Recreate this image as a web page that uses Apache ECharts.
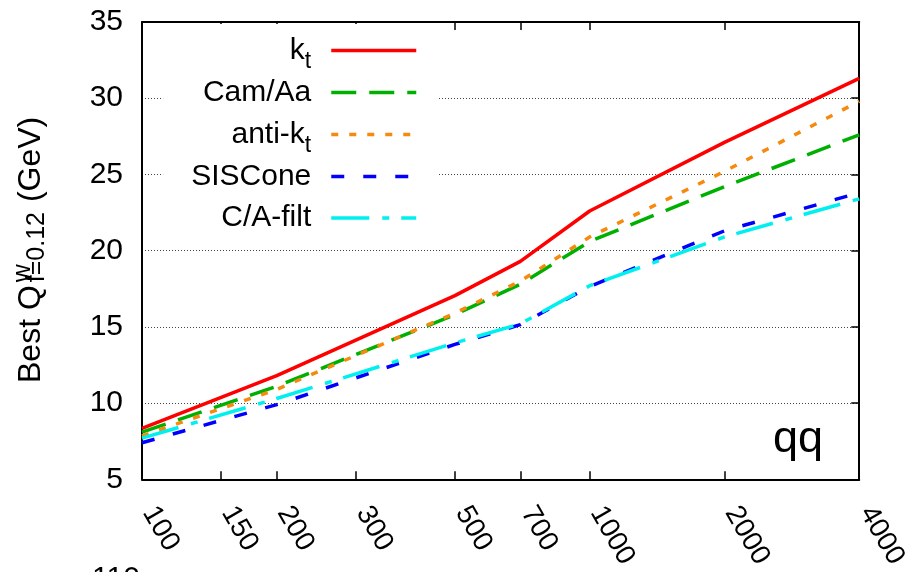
<!DOCTYPE html>
<html>
<head>
<meta charset="utf-8">
<script src="https://cdn.jsdelivr.net/npm/echarts@6/dist/echarts.min.js"></script>
<style>
  html, body { margin: 0; padding: 0; background: #fff; }
  #main { width: 911px; height: 572px; }
</style>
</head>
<body>
<div id="main"></div>
<script>
// masses (GeV) where the curves are sampled
var mass = [100, 200, 500, 700, 1000, 2000, 4000];
var kt      = [8.35, 11.8, 17.05, 19.3, 22.6, 27.1, 31.3];
var camAa   = [8.1, 11.1, 15.8, 17.8, 20.6, 24.2, 27.6];
var antiKt  = [7.85, 10.9, 15.9, 18.0, 20.9, 25.2, 29.8];
var sisCone = [7.4, 9.9, 13.85, 15.15, 17.65, 21.3, 23.8];
var caFilt  = [7.7, 10.3, 13.95, 15.2, 17.7, 20.9, 23.4];

var xLabels = [100, 150, 200, 300, 500, 700, 1000, 2000, 4000];
var xTicks  = [150, 200, 300, 500, 700, 1000, 2000];

var FONT = '"Liberation Sans", Arial, sans-serif';
var dom = document.getElementById('main');
var myChart = echarts.init(dom);

function pts(ys) {
    return mass.map(function (m, i) { return [Math.log10(m), ys[i]]; });
}
function lg(a) { return a.map(function (v) { return Math.log10(v); }); }

// measure text for the y axis title
var ctx = document.createElement('canvas').getContext('2d');
function tw(t, s) { ctx.font = s + 'px ' + FONT; return ctx.measureText(t).width; }
var wMain = tw('Best Q', 32);
var wSub = tw('f=0.12', 25);

var xBase = {
    type: 'value',
    min: 2,
    max: Math.log10(4000),
    gridIndex: 0,
    splitLine: { show: false },
    axisLine: { show: true, onZero: false, lineStyle: { color: '#000', width: 2 } },
    axisTick: { show: true, inside: true, length: 8, customValues: lg(xTicks), lineStyle: { color: '#000', width: 1.5 } }
};

option = {
    animation: false,
    backgroundColor: '#fff',
    grid: { left: 142, right: 49, top: 22, bottom: 92 },
    legend: {
        orient: 'vertical',
        right: 474,
        top: 24,
        padding: [4, 19, 6, 28],
        align: 'right',
        backgroundColor: '#fff',
        itemWidth: 85,
        itemHeight: 14,
        itemGap: -2.5,
        itemStyle: { opacity: 0 },
        lineStyle: { width: 3.5 },
        textStyle: {
            fontFamily: FONT, fontSize: 30, color: '#000', lineHeight: 44,
            padding: [0, 15, 0, 0],
            rich: {
                s: { fontFamily: FONT, fontSize: 23, lineHeight: 22, padding: [22, 0, 0, 0], color: '#000' }
            }
        },
        formatter: function (name) {
            if (name === 'k_t') return 'k{s|t}';
            if (name === 'anti-k_t') return 'anti-k{s|t}';
            return name;
        },
        data: ['k_t', 'Cam/Aa', 'anti-k_t', 'SISCone', 'C/A-filt']
    },
    xAxis: [
        Object.assign({}, xBase, {
            position: 'bottom',
            axisLabel: {
                show: true,
                customValues: lg(xLabels),
                rotate: -60,
                margin: 17,
                padding: [0, 0, 0, 14],
                fontFamily: FONT,
                fontSize: 28,
                color: '#000',
                formatter: function (v) { return String(Math.round(Math.pow(10, v))); }
            }
        }),
        Object.assign({}, xBase, {
            position: 'top',
            axisLabel: { show: false }
        })
    ],
    yAxis: [
        {
            type: 'value',
            min: 5, max: 35, interval: 5,
            position: 'left',
            axisLine: { show: true, onZero: false, lineStyle: { color: '#000', width: 2 } },
            axisTick: { show: false },
            axisLabel: { margin: 19, fontFamily: FONT, fontSize: 30, color: '#000' },
            splitLine: { show: true, lineStyle: { color: '#444', width: 1, type: [1, 2] } }
        },
        {
            type: 'value',
            min: 5, max: 35, interval: 5,
            position: 'right',
            axisLine: { show: true, onZero: false, lineStyle: { color: '#000', width: 2 } },
            axisTick: { show: true, inside: true, length: 8, lineStyle: { color: '#000', width: 1.5 } },
            axisLabel: { show: false },
            splitLine: { show: false }
        }
    ],
    graphic: [
        {
            type: 'group',
            x: 42, y: 383,
            rotation: Math.PI / 2,
            children: [
                { type: 'text', x: 0, y: -11, style: { text: 'Best Q', font: '32px ' + FONT, fill: '#000', verticalAlign: 'middle' } },
                { type: 'text', x: wMain + 3, y: -19, style: { text: 'w', font: '25px ' + FONT, fill: '#000', verticalAlign: 'middle' } },
                { type: 'text', x: wMain + 3, y: -5, style: { text: 'f=0.12', font: '25px ' + FONT, fill: '#000', verticalAlign: 'middle' } },
                { type: 'text', x: wMain + wSub + 4, y: -11, style: { text: ' (GeV)', font: '32px ' + FONT, fill: '#000', verticalAlign: 'middle' } }
            ]
        },
        { type: 'text', left: 773, top: 417, style: { text: 'qq', font: '45px ' + FONT, fill: '#000' } },
        { type: 'text', left: 92, top: 564, style: { text: '110', font: '30px ' + FONT, fill: '#000' } }
    ],
    series: [
        { name: 'k_t', type: 'line', data: pts(kt), symbol: 'none', lineStyle: { color: '#ff0000', width: 3.5, type: 'solid' }, itemStyle: { color: '#ff0000' } },
        { name: 'Cam/Aa', type: 'line', data: pts(camAa), symbol: 'none', lineStyle: { color: '#00b000', width: 3.5, type: [25, 13] }, itemStyle: { color: '#00b000' } },
        { name: 'anti-k_t', type: 'line', data: pts(antiKt), symbol: 'none', lineStyle: { color: '#f58a0f', width: 3.5, type: [7, 11] }, itemStyle: { color: '#f58a0f' } },
        { name: 'SISCone', type: 'line', data: pts(sisCone), symbol: 'none', lineStyle: { color: '#0000ff', width: 3.5, type: [13, 19] }, itemStyle: { color: '#0000ff' } },
        { name: 'C/A-filt', type: 'line', data: pts(caFilt), symbol: 'none', lineStyle: { color: '#00f0f0', width: 3.5, type: [38, 13, 7, 12] }, itemStyle: { color: '#00f0f0' } }
    ]
};

myChart.setOption(option);
</script>
</body>
</html>
